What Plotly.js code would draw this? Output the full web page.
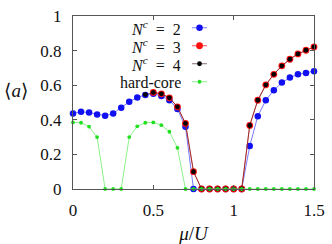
<!DOCTYPE html>
<html>
<head>
<meta charset="utf-8">
<script src="https://cdn.plot.ly/plotly-3.0.1.min.js"></script>
<style>html,body{margin:0;padding:0;background:#fff;}#chart{width:332px;height:244px;}</style>
</head>
<body>
<div id="chart"></div>
<script>
// mu/U grid
const muAll = [0,0.05,0.1,0.15,0.2,0.25,0.3,0.35,0.4,0.45,0.5,0.55,0.6,0.65,0.7,0.75,0.8,0.85,0.9,0.95,1.0,1.05,1.1,1.15,1.2,1.25,1.3,1.35,1.4,1.45,1.5];
const muN3 = [0.5,0.55,0.6,0.65,0.7,0.75,0.8,0.85,0.9,0.95,1.0,1.05,1.1,1.15,1.2,1.25,1.3,1.35,1.4,1.45,1.5];
const muN4 = [0.45,0.5,0.55,0.6,0.65,0.7,0.75,0.8,0.85,0.9,0.95,1.0,1.05,1.1,1.15,1.2,1.25,1.3,1.35,1.4,1.45,1.5];

const aN2 = [0.437,0.446,0.442,0.431,0.423,0.437,0.469,0.504,0.529,0.544,0.550,0.538,0.513,0.462,0.360,0,0,0,0,0,0,0,0.248,0.421,0.513,0.571,0.615,0.644,0.663,0.671,0.681];
const aN3 = [0.558,0.550,0.527,0.475,0.379,0.100,0,0,0,0,0,0,0.367,0.513,0.602,0.663,0.712,0.750,0.781,0.802,0.821];
const aN4 = [0.546,0.558,0.550,0.527,0.475,0.379,0.100,0,0,0,0,0,0,0.367,0.513,0.602,0.663,0.712,0.750,0.781,0.802,0.821];
const aHC = [0.385,0.383,0.360,0.300,0,0,0,0.300,0.362,0.383,0.385,0.369,0.331,0.238,0,0,0,0,0,0,0,0,0,0,0,0,0,0,0,0,0];

const seriesNames = ["<i>N</i><sup><i>c</i></sup>\u2002=\u20022","<i>N</i><sup><i>c</i></sup>\u2002=\u20023","<i>N</i><sup><i>c</i></sup>\u2002=\u20024","hard-core"];
const xTicks = [0,0.5,1,1.5];
const xTickText = ["0","0.5","1","1.5"];
const yTicks = [0,0.2,0.4,0.6,0.8,1];
const yTickText = ["0","0.2","0.4","0.6","0.8","1"];

const styles = [
  {mc:'#1010f0', lc:'#7a7aff', ms:6.5, lw:1},
  {mc:'#ff1010', lc:'#ff5050', ms:6.8, lw:1},
  {mc:'#000000', lc:'rgba(60,10,10,0.6)', ms:4.8, lw:0.9},
  {mc:'#20e020', lc:'#8cf08c', ms:3.8, lw:1}
];
const xs = [muAll, muN3, muN4, muAll];
const ys = [aN2, aN3, aN4, aHC];

const traces = ys.map((y,i)=>({
  x: xs[i], y: y, type:'scatter', mode:'lines+markers', name: seriesNames[i],
  line:{color:styles[i].lc, width:styles[i].lw},
  marker:{color:styles[i].mc, size:styles[i].ms},
  cliponaxis:false, showlegend:false
}));

const FONT = '"Liberation Serif","DejaVu Serif",serif';
const annotations = [];
const shapes = [];
const legendRowY = [0.93,0.826,0.722,0.618];
const legendKeyY = [0.932,0.828,0.724,0.620];
seriesNames.forEach((n,i)=>{
  annotations.push({xref:'paper', yref:'paper', x:0.452, y:legendRowY[i], xanchor:'right', yanchor:'middle',
    text:n, showarrow:false, height:16, valign:'middle', borderpad:0, font:{family:FONT, size:16, color:'#111'}});
  shapes.push({type:'line', xref:'paper', yref:'paper', x0:0.494, x1:0.556, y0:legendKeyY[i], y1:legendKeyY[i],
    line:{color:styles[i].lc, width:1}});
  shapes.push({type:'circle', xref:'paper', yref:'paper', xsizemode:'pixel', ysizemode:'pixel',
    xanchor:0.525, yanchor:legendKeyY[i], x0:-styles[i].ms/2, x1:styles[i].ms/2, y0:-styles[i].ms/2, y1:styles[i].ms/2,
    fillcolor:styles[i].mc, line:{width:0}});
});
annotations.push({xref:'paper', yref:'paper', x:-0.237, y:0.572, xanchor:'center', yanchor:'middle',
  text:'⟨<i>a</i>⟩', showarrow:false, font:{family:FONT, size:19, color:'#111'}});

const axisCommon = {showgrid:false, zeroline:false, showline:true, linecolor:'#555', linewidth:1,
  mirror:'ticks', ticks:'inside', ticklen:4, tickcolor:'#555', tickwidth:1,
  tickfont:{family:FONT, size:17, color:'#111'}};

const layout = {
  width:332, height:244,
  margin:{l:73, r:18, t:16, b:55},
  paper_bgcolor:'#fff', plot_bgcolor:'#fff',
  xaxis:Object.assign({}, axisCommon, {range:[0,1.5], tickvals:xTicks, ticktext:xTickText, ticklabelstandoff:6,
    title:{text:'<i>μ</i>/<i>U</i>', font:{family:FONT, size:19, color:'#111'}, standoff:9}, automargin:false}),
  yaxis:Object.assign({}, axisCommon, {range:[0,1], tickvals:yTicks, ticktext:yTickText, ticklabelstandoff:7, automargin:false}),
  annotations:annotations, shapes:shapes, showlegend:false
};
Plotly.newPlot('chart', traces, layout, {staticPlot:true, displayModeBar:false});
</script>
</body>
</html>
